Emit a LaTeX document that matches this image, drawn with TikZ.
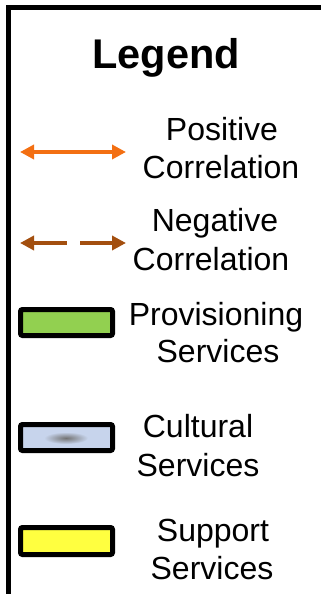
\documentclass[tikz,border=0pt]{standalone}
\usepackage{fontspec}
\setmainfont{Liberation Sans}
\usetikzlibrary{arrows.meta}
\definecolor{posorange}{HTML}{F36F12}
\definecolor{negbrown}{HTML}{A34F0F}
\definecolor{provgreen}{HTML}{92D050}
\definecolor{cultblue}{HTML}{C7D4EC}
\definecolor{suppyellow}{HTML}{FFFF40}
\tikzset{
  lbl/.style={anchor=base, inner sep=0pt, font=\fontsize{32}{38}\selectfont},
  swatch/.style={draw=black, line width=5pt, rounded corners=2pt},
  corr/.style={line width=3.5pt, {Triangle[length=14pt,width=14pt]}-{Triangle[length=14pt,width=14pt]}}
}
\begin{document}
\begin{tikzpicture}[x=1pt,y=-1pt]
\useasboundingbox (0,0) rectangle (321,594);
% frame
\draw[line width=4.5pt] (8.5,600) -- (8.5,7.5) -- (330,7.5);
% title
\node[anchor=base, inner sep=0pt, font=\bfseries\fontsize{41.5}{48}\selectfont] (title) at (166,68) {Legend};
% positive
\coordinate (p1) at (20,152);
\coordinate (p2) at (126,152);
\draw[corr, posorange] (p1) -- (p2);
\node[lbl] (pos1) at (222,140) {Positive};
\node[lbl] (pos2) at (221,178) {Correlation};
% negative
\coordinate (n1) at (20,243);
\coordinate (n2) at (126,243);
\draw[corr, negbrown, dash pattern=on 34pt off 13pt] (n1) -- (n2);
\node[lbl] (neg1) at (215,231) {Negative};
\node[lbl] (neg2) at (211,270) {Correlation};
% provisioning
\draw[swatch, fill=provgreen] (20.5,309.5) rectangle (112.5,335.5);
\node[lbl] (prov1) at (216,325) {Provisioning};
\node[lbl] (prov2) at (218,362) {Services};
% cultural
\draw[swatch, fill=cultblue] (20.5,424.5) rectangle (112.5,450.5);
\shade[inner color=black!55, outer color=cultblue] (66,438) ellipse (22 and 6);
\node[lbl] (cult1) at (198,437) {Cultural};
\node[lbl] (cult2) at (198,476) {Services};
% support
\draw[swatch, fill=suppyellow] (20.5,527.5) rectangle (112.5,554.5);
\node[lbl] (supp1) at (213,541) {Support};
\node[lbl] (supp2) at (212,579) {Services};
\end{tikzpicture}
\end{document}
